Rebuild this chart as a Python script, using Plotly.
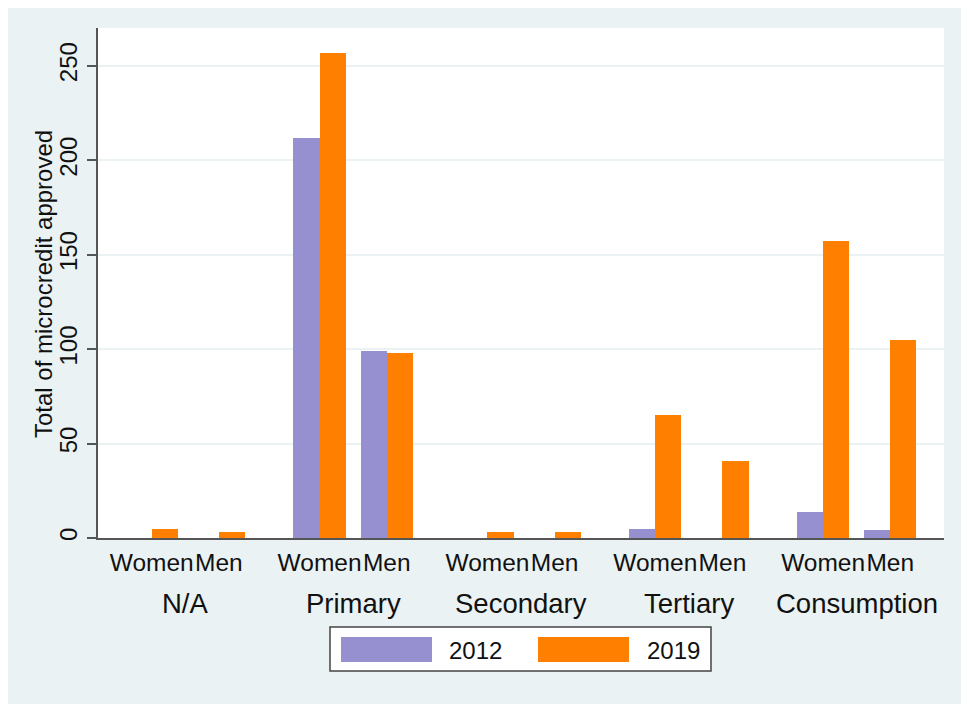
import plotly.graph_objects as go

sectors = ["N/A", "Primary", "Secondary", "Tertiary", "Consumption"]
genders = ["Women", "Men"]
# values ordered sector by sector: Women, Men
vals_2012 = [0, 0, 212, 99, 0, 0, 5, 0, 14, 4]
vals_2019 = [5, 3, 257, 98, 3, 3, 65, 41, 157, 105]
series_names = ["2012", "2019"]
y_ticks = [0, 50, 100, 150, 200, 250]
y_title = "Total of microcredit approved"

C2012 = "#9690D0"
C2019 = "#FF7F00"
BG = "#EAF2F3"
AX = "#555555"
FONT = "Liberation Sans, Arial, sans-serif"

OFF = 8  # page body margin
W, H = 969 - OFF, 704 - OFF
# plot area in page pixels
PL, PR, PT, PB = 98, 944, 28, 538
ML, MT = PL - OFF, PT - OFF
MR, MB = W - (PR - OFF), H - (PB - OFF)
PW, PH = PR - PL, PB - PT

# positions: within-sector gap 1, between sectors 1.5
xpos = []
labels = []
for i, s in enumerate(sectors):
    for j, g in enumerate(genders):
        xpos.append(i * 2.5 + j)
        labels.append(g)
centers = [i * 2.5 + 0.5 for i in range(len(sectors))]

bw = 0.39
fig = go.Figure()
fig.add_trace(go.Bar(x=xpos, y=vals_2012, name=series_names[0], marker_color=C2012,
                     marker_line_width=0, width=bw, offset=-bw))
fig.add_trace(go.Bar(x=xpos, y=vals_2019, name=series_names[1], marker_color=C2019,
                     marker_line_width=0, width=bw, offset=0))

def px(x):
    return (x - PL) / PW

def py(y):
    return (PB - y) / PH

annotations = []
for c, s in zip(centers, sectors):
    annotations.append(dict(x=c, xref="x", y=py(603), yref="paper", text=s, showarrow=False,
                            xanchor="center", yanchor="middle",
                            font=dict(size=27.5, color="#111111", family=FONT)))

# y-axis title
annotations.append(dict(x=px(43), xref="paper", y=py(284), yref="paper", text=y_title,
                        showarrow=False, textangle=-90, xanchor="center", yanchor="middle",
                        font=dict(size=24, color="#111111", family=FONT)))

shapes = []
# legend box
shapes.append(dict(type="rect", xref="paper", yref="paper", x0=px(330), x1=px(711),
                   y0=py(627), y1=py(671), fillcolor="white",
                   line=dict(color="#444444", width=1.5)))
legend_items = [(series_names[0], C2012, 341, 432, 447), (series_names[1], C2019, 538, 629, 645)]
for name, col, sx0, sx1, tx in legend_items:
    shapes.append(dict(type="rect", xref="paper", yref="paper", x0=px(sx0), x1=px(sx1),
                       y0=py(637), y1=py(662), fillcolor=col, line=dict(width=0)))
    annotations.append(dict(x=px(tx), xref="paper", y=py(650), yref="paper", text=name,
                            showarrow=False, xanchor="left", yanchor="middle",
                            font=dict(size=24, color="#111111", family=FONT)))

fig.update_layout(
    width=W, height=H,
    margin=dict(l=ML, r=MR, t=MT, b=MB),
    paper_bgcolor=BG, plot_bgcolor="white",
    showlegend=False,
    bargap=0,
    font=dict(family=FONT, size=24, color="#111111"),
    annotations=annotations,
    shapes=shapes,
)
fig.update_xaxes(range=[-0.8, 11.8], tickmode="array", tickvals=xpos, ticktext=labels,
                 ticks="", tickangle=0, showgrid=False, zeroline=False, showline=True,
                 linecolor=AX, linewidth=2, ticklabelstandoff=2,
                 tickfont=dict(size=24.5, color="#111111", family=FONT))
fig.update_yaxes(range=[0, 270], tickmode="array", tickvals=y_ticks, tickangle=-90,
                 ticks="outside", ticklen=9, tickwidth=1.5, tickcolor=AX,
                 showline=True, linecolor=AX, linewidth=2, zeroline=False,
                 showgrid=True, gridcolor=BG, gridwidth=1.5,
                 ticklabelstandoff=0,
                 tickfont=dict(size=24, color="#111111", family=FONT))

fig.write_html("out.html")
